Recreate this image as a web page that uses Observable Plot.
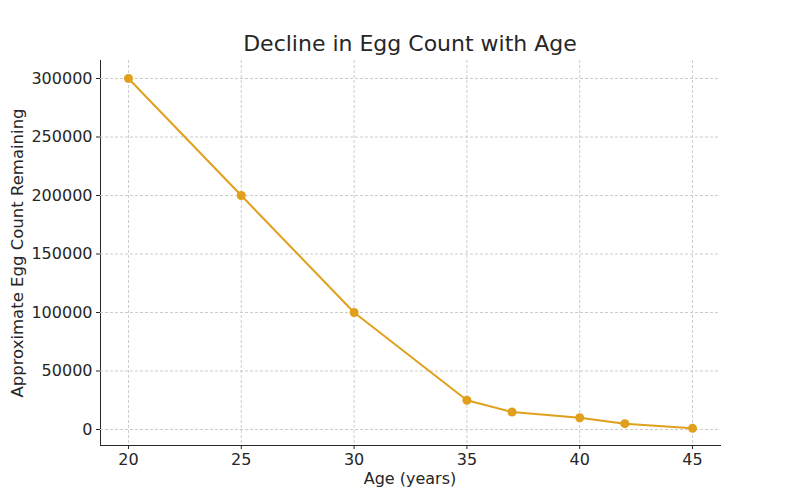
<!DOCTYPE html>
<html>
<head>
<meta charset="utf-8">
<script src="https://cdn.jsdelivr.net/npm/d3@7"></script>
<script src="https://cdn.jsdelivr.net/npm/@observablehq/plot@0.6"></script>
<style>
  html, body { margin: 0; padding: 0; background: #fff; }
  #wrap { position: relative; width: 800px; height: 500px; font-family: "DejaVu Sans", sans-serif; color: #262626; }
  #title { position: absolute; top: 30px; left: 100px; width: 620px; text-align: center; font-size: 22px; line-height: 28px; }
  #xlabel { position: absolute; top: 469px; left: 100px; width: 620px; text-align: center; font-size: 16px; line-height: 20px; }
  #ylabel { position: absolute; top: 243px; left: -232px; width: 500px; text-align: center; font-size: 16.5px; line-height: 20px; transform: rotate(-90deg); }
  svg { position: absolute; top: 0; left: 0; }
</style>
</head>
<body>
<div id="wrap">
  <div id="title">Decline in Egg Count with Age</div>
  <div id="xlabel">Age (years)</div>
  <div id="ylabel">Approximate Egg Count Remaining</div>
</div>
<script>
const ages = [20, 25, 30, 35, 37, 40, 42, 45];
const eggs = [300000, 200000, 100000, 25000, 15000, 10000, 5000, 1000];
const xTicks = [20, 25, 30, 35, 40, 45];
const yTicks = [0, 50000, 100000, 150000, 200000, 250000, 300000];
const data = ages.map((a, i) => ({age: a, eggs: eggs[i]}));
const color = "#e0a01c";

const chart = Plot.plot({
  width: 800,
  height: 500,
  marginLeft: 100,
  marginRight: 80,
  marginTop: 60,
  marginBottom: 55,
  style: {fontFamily: "DejaVu Sans, sans-serif", fontSize: "16px", color: "#262626", background: "transparent"},
  x: {domain: [18.76, 46.24], ticks: xTicks, tickSize: 4, tickPadding: 4, line: true, label: null},
  y: {domain: [-13675, 315385], ticks: yTicks, tickSize: 4, tickPadding: 4, line: true,
      tickFormat: d => String(d), label: null},
  marks: [
    Plot.gridX(xTicks, {stroke: "#cccccc", strokeOpacity: 1, strokeDasharray: "3,2"}),
    Plot.gridY(yTicks, {stroke: "#cccccc", strokeOpacity: 1, strokeDasharray: "3,2"}),
    Plot.line(data, {x: "age", y: "eggs", stroke: color, strokeWidth: 2}),
    Plot.dot(data, {x: "age", y: "eggs", fill: color, r: 4.5})
  ]
});
document.getElementById("wrap").appendChild(chart);
</script>
</body>
</html>
